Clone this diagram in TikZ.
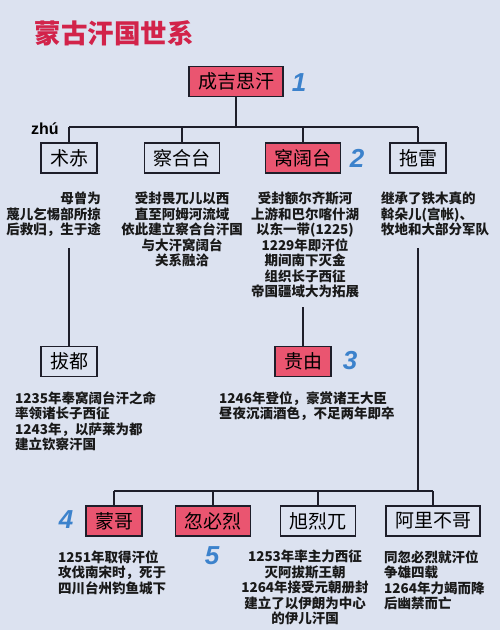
\documentclass[tikz,border=0pt]{standalone}
\usepackage{fontspec}
\newfontfamily\cjk{Noto Sans CJK SC}
\newfontfamily\numfont{Liberation Sans}
\usetikzlibrary{positioning}

\definecolor{bgblue}{HTML}{DCE2F0}
\definecolor{khanred}{HTML}{EA5570}
\definecolor{titlered}{HTML}{D2234A}
\definecolor{numblue}{HTML}{3C82CC}
\definecolor{linedark}{HTML}{1E1E2A}

\tikzset{
  person/.style={draw=linedark, line width=1.1pt, minimum height=30pt, inner xsep=9pt,
    font=\cjk\fontsize{19}{21}\selectfont},
  khan/.style={person, fill=khanred},
  info/.style={font=\cjk\bfseries\fontsize{13.5}{15.5}\selectfont, inner sep=0pt, text=black!90},
  order/.style={font=\numfont\bfseries\itshape\fontsize{26}{26}\selectfont, text=numblue},
  link/.style={draw=linedark, line width=1.1pt}
}

\begin{document}
\begin{tikzpicture}[x=1pt,y=-1pt]
  \fill[bgblue] (0,0) rectangle (500,630);
  \useasboundingbox (0,0) rectangle (500,630);

  % title
  \node[font=\cjk\bfseries\fontsize{26.5}{27}\selectfont, text=titlered, anchor=west] (title) at (31,33) {蒙古汗国世系};

  % generations
  \node[khan] (chinggis) at (236,81.5) {成吉思汗};
  \node[person] (jochi) at (69,158) {术赤};
  \node[person] (chagatai) at (182,158) {察合台};
  \node[khan] (ogedei) at (303,158) {窝阔台};
  \node[person] (tolui) at (418,158) {拖雷};
  \node[person] (batu) at (69,361.5) {拔都};
  \node[khan] (guyuk) at (303,361.5) {贵由};
  \node[khan] (mongke) at (114,521) {蒙哥};
  \node[khan] (kublai) at (213,521) {忽必烈};
  \node[person] (hulagu) at (318,521) {旭烈兀};
  \node[person] (ariq) at (433,521) {阿里不哥};

  \node[font=\numfont\bfseries\fontsize{16}{16}\selectfont, anchor=south west, inner sep=0pt] (pinyin) at (31,135) {zhú};

  % khan order
  \node[order] (n1) at (299,83) {1};
  \node[order] (n2) at (357,158) {2};
  \node[order] (n3) at (350,361) {3};
  \node[order] (n4) at (66,520) {4};
  \node[order] (n5) at (212,556) {5};

  % notes
  \node[info, anchor=north east, align=right] (jochiinfo) at (101,192) {母曾为\\蔑儿乞惕部所掠\\后救归，生于途};
  \node[info, anchor=north, align=center] (chagataiinfo) at (182,192) {受封畏兀儿以西\\直至阿姆河流域\\依此建立察合台汗国\\与大汗窝阔台\\关系融洽};
  \node[info, anchor=north, align=center] (ogedeiinfo) at (305,192) {受封额尔齐斯河\\上游和巴尔喀什湖\\以东一带(1225)\\1229年即汗位\\期间南下灭金\\组织长子西征\\帝国疆域大为拓展};
  \node[info, anchor=north west, align=left] (toluiinfo) at (381,192) {继承了铁木真的\\斡朵儿(宫帐)、\\牧地和大部分军队};
  \node[info, anchor=north west, align=left] (batuinfo) at (15,391) {1235年奉窝阔台汗之命\\率领诸长子西征\\1243年，以萨莱为都\\建立钦察汗国};
  \node[info, anchor=north west, align=left] (guyukinfo) at (219,391) {1246年登位，豪赏诸王大臣\\昼夜沉湎酒色，不足两年即卒};
  \node[info, anchor=north west, align=left] (mongkeinfo) at (58,550) {1251年取得汗位\\攻伐南宋时，死于\\四川台州钓鱼城下};
  \node[info, anchor=north, align=center] (hulaguinfo) at (305,550) {1253年率主力西征\\灭阿拔斯王朝\\1264年接受元朝册封\\建立了以伊朗为中心\\的伊儿汗国};
  \node[info, anchor=north west, align=left] (ariqinfo) at (384,550) {同忽必烈就汗位\\争雄四载\\1264年力竭而降\\后幽禁而亡};

  % connectors
  \coordinate (bus1) at (236,127);
  \coordinate (bus2) at (418,491);
  \coordinate (jochiend) at (69,248);
  \coordinate (ogedeiend) at (303,307);
  \coordinate (toluiend) at (418,248);
  \draw[link] (chinggis.south) -- (chinggis.south |- bus1);
  \draw[link] (jochi.north |- bus1) -- (tolui.north |- bus1);
  \foreach \son in {jochi,chagatai,ogedei,tolui} {
    \draw[link] (\son.north) -- (\son.north |- bus1);
  }
  \draw[link] (jochiend) -- (batu.north);
  \draw[link] (ogedeiend) -- (guyuk.north);
  \draw[link] (toluiend) -- (bus2);
  \draw[link] (mongke.north |- bus2) -- (ariq.north |- bus2);
  \foreach \son in {mongke,kublai,hulagu,ariq} {
    \draw[link] (\son.north) -- (\son.north |- bus2);
  }
\end{tikzpicture}
\end{document}
